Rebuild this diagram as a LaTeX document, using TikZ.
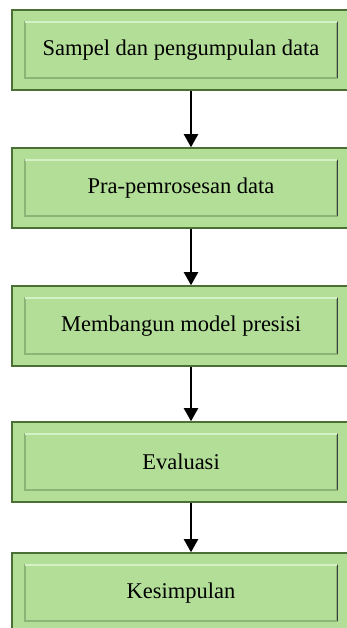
\documentclass[tikz,border=0pt]{standalone}
\usepackage{fontspec}
\setmainfont{Liberation Serif}
\usetikzlibrary{arrows.meta,calc}
\definecolor{StepGreen}{RGB}{179,222,152}
\definecolor{StepEdge}{RGB}{74,112,54}
\definecolor{StepLight}{RGB}{214,240,198}
\definecolor{StepShade}{RGB}{140,180,118}
\definecolor{StepDark}{RGB}{60,60,60}

\begin{document}
\begin{tikzpicture}[x=1pt,y=1pt,
  stepbox/.style={draw=StepEdge,fill=StepGreen,line width=1.5pt,
                  minimum width=338pt,minimum height=80pt,inner sep=0pt,
                  font=\fontsize{22.5}{26}\selectfont,
                  path picture={
                    \coordinate (pSW) at ($(path picture bounding box.south west)+(13,12)$);
                    \coordinate (pNE) at ($(path picture bounding box.north east)+(-13,-12)$);
                    \draw[StepShade,line width=1.1pt] (pSW) rectangle (pNE);
                    \draw[StepLight,line width=1.5pt] (pSW|-pNE) -- (pNE);
                    \draw[StepDark,line width=0.9pt] (pNE) -- (pNE|-pSW);
                  }},
  flow/.style={-{Triangle[width=14pt,length=13pt]},line width=2pt},
]
\useasboundingbox[fill=white] (0,0) rectangle (346,628);
\node[stepbox] (sampel) at (181,578) {Sampel dan pengumpulan data};
\node[stepbox] (prapros) at (181,440) {Pra-pemrosesan data};
\node[stepbox] (model) at (181,302) {Membangun model presisi};
\node[stepbox] (evaluasi) at (181,166) {Evaluasi};
\node[stepbox] (simpulan) at (181,35) {Kesimpulan};
\draw[flow] ([xshift=10pt]sampel.south) -- ([xshift=10pt]prapros.north);
\draw[flow] ([xshift=10pt]prapros.south) -- ([xshift=10pt]model.north);
\draw[flow] ([xshift=10pt]model.south) -- ([xshift=10pt]evaluasi.north);
\draw[flow] ([xshift=10pt]evaluasi.south) -- ([xshift=10pt]simpulan.north);
\end{tikzpicture}
\end{document}
